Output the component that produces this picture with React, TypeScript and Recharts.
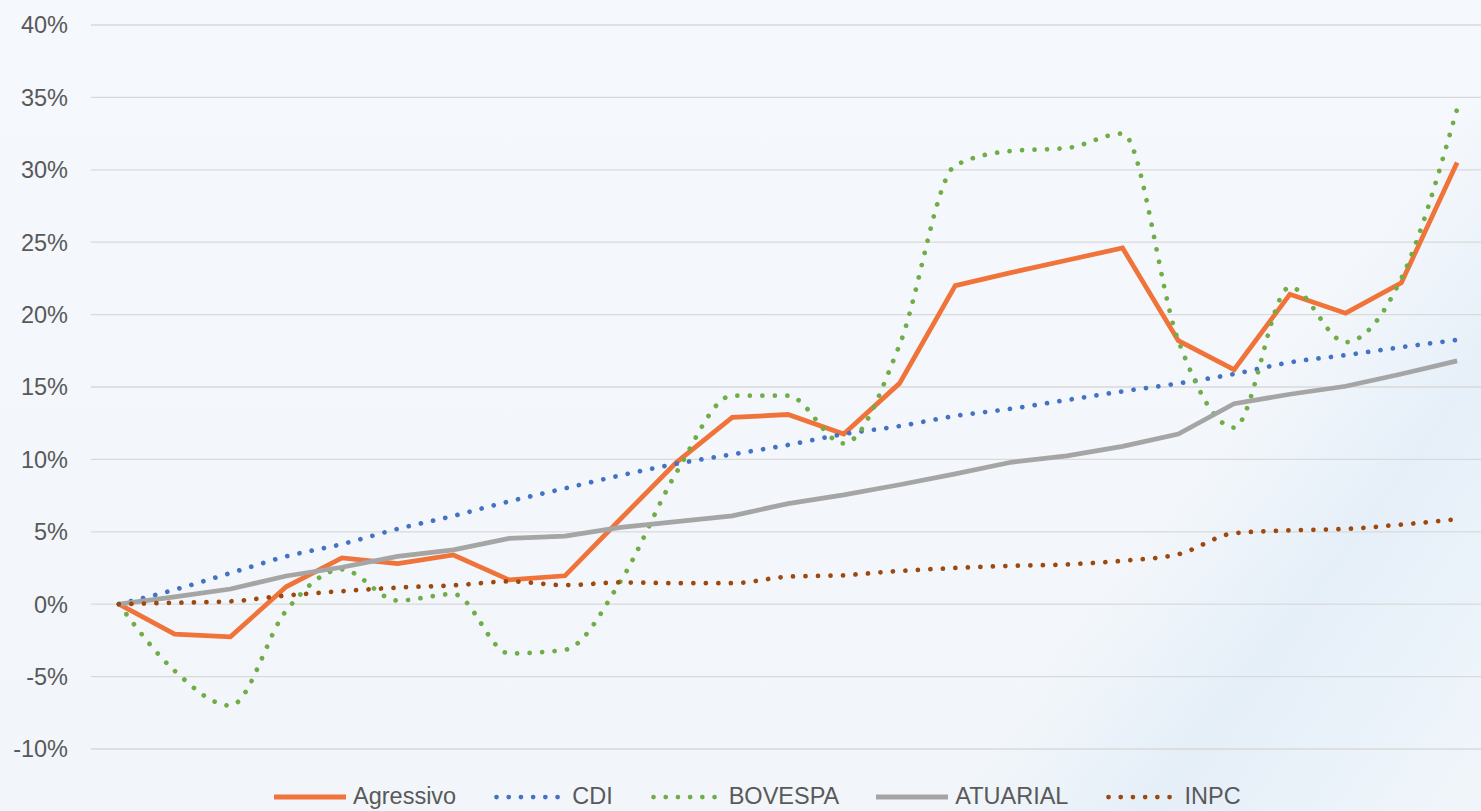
import React from 'react';
import { LineChart, Line, XAxis, YAxis, CartesianGrid, Legend } from 'recharts';

const periods = [0, 1, 2, 3, 4, 5, 6, 7, 8, 9, 10, 11, 12, 13, 14, 15, 16, 17, 18, 19, 20, 21, 22, 23, 24];

const agressivo = [0, -2.07, -2.25, 1.2, 3.2, 2.8, 3.4, 1.68, 1.96, 5.9, 9.8, 12.9, 13.1, 11.75, 15.25, 22.0, 22.9, 23.75, 24.6, 18.2, 16.2, 21.4, 20.1, 22.2, 30.5];
const cdi = [0, 1.0, 2.15, 3.3, 4.15, 5.2, 6.1, 7.1, 8.0, 8.9, 9.7, 10.35, 11.0, 11.75, 12.3, 13.0, 13.5, 14.1, 14.7, 15.25, 15.9, 16.7, 17.2, 17.75, 18.25];
const bovespa = [0, -4.6, -7.0, -0.45, 2.4, 0.25, 0.7, -3.4, -3.15, 1.6, 9.1, 14.4, 14.4, 11.1, 17.9, 30.3, 31.3, 31.5, 32.5, 18.2, 12.2, 21.9, 18.1, 22.5, 34.2];
const atuarial = [0, 0.5, 1.05, 1.95, 2.55, 3.3, 3.75, 4.55, 4.7, 5.3, 5.7, 6.1, 6.95, 7.55, 8.25, 9.0, 9.8, 10.25, 10.9, 11.75, 13.85, 14.5, 15.05, 15.9, 16.8];
const inpc = [0, 0.1, 0.2, 0.6, 0.9, 1.15, 1.3, 1.57, 1.32, 1.5, 1.45, 1.45, 1.9, 2.0, 2.3, 2.5, 2.65, 2.75, 3.0, 3.45, 4.9, 5.1, 5.2, 5.5, 5.87];

const yTicks = [-10, -5, 0, 5, 10, 15, 20, 25, 30, 35, 40];

const data = periods.map((p, i) => ({
  p,
  Agressivo: agressivo[i],
  CDI: cdi[i],
  BOVESPA: bovespa[i],
  ATUARIAL: atuarial[i],
  INPC: inpc[i],
}));

const FONT = '"Liberation Sans", Arial, sans-serif';
const TEXT = '#595959';
const DOT = '0.01 12.5';

const series = [
  { key: 'Agressivo', color: '#F0733A', dotted: false, type: 'linear' as const },
  { key: 'CDI', color: '#4472C4', dotted: true, type: 'monotone' as const },
  { key: 'BOVESPA', color: '#70AD47', dotted: true, type: 'monotone' as const },
  { key: 'ATUARIAL', color: '#A5A5A5', dotted: false, type: 'linear' as const },
  { key: 'INPC', color: '#9E480E', dotted: true, type: 'monotone' as const },
];

const renderLegend = () => (
  <div
    style={{
      display: 'flex',
      alignItems: 'center',
      height: 27,
      lineHeight: '27px',
      fontFamily: FONT,
      fontSize: 23.5,
      color: TEXT,
      whiteSpace: 'nowrap',
    }}
  >
    {series.map((s) => (
      <div key={s.key} style={{ display: 'flex', alignItems: 'center', marginRight: 37 }}>
        <svg width={74} height={12} style={{ display: 'block' }}>
          {s.dotted ? (
            <line x1={3.5} y1={6} x2={65} y2={6} stroke={s.color} strokeWidth={4.75} strokeDasharray="0.01 12.2" strokeLinecap="round" />
          ) : (
            <line x1={0} y1={6} x2={72} y2={6} stroke={s.color} strokeWidth={5} />
          )}
        </svg>
        <span style={{ marginLeft: 5 }}>{s.key}</span>
      </div>
    ))}
  </div>
);

export default function App() {
  return (
    <div
      style={{
        position: 'absolute',
        left: 0,
        top: 0,
        width: 1481,
        height: 811,
        overflow: 'hidden',
        background:
          'linear-gradient(127deg, rgba(255,255,255,0) 74%, rgba(208,227,245,0.38) 84%, rgba(218,234,248,0.3) 92%, rgba(236,243,250,0.15) 100%), linear-gradient(180deg, #f5f8fc 0%, #f2f6fa 100%)',
      }}
    >
      <LineChart width={1490} height={811} data={data} margin={{ top: 25, right: 5, bottom: 35, left: 0 }}>
        <CartesianGrid horizontal vertical={false} stroke="#d9d9d9" strokeWidth={1.3} />
        <XAxis dataKey="p" type="number" domain={[-0.5, 24.5]} hide />
        <YAxis
          type="number"
          domain={[-10, 40]}
          ticks={yTicks}
          interval={0}
          width={91}
          axisLine={false}
          tickLine={false}
          tickMargin={17}
          tickFormatter={(v: number) => `${v}%`}
          tick={{ fill: TEXT, fontSize: 23.5, fontFamily: FONT }}
        />
        <Legend
          verticalAlign="bottom"
          content={renderLegend}
          wrapperStyle={{ left: 274, top: 783, bottom: 'auto', width: 'auto' }}
        />
        {series.map((s) => (
          <Line
            key={s.key}
            dataKey={s.key}
            type={s.type}
            stroke={s.color}
            strokeWidth={s.dotted ? 4.75 : 4.75}
            strokeDasharray={s.dotted ? DOT : undefined}
            strokeLinecap={s.dotted ? 'round' : 'butt'}
            strokeLinejoin="miter"
            dot={false}
            activeDot={false}
            isAnimationActive={false}
          />
        ))}
      </LineChart>
    </div>
  );
}
